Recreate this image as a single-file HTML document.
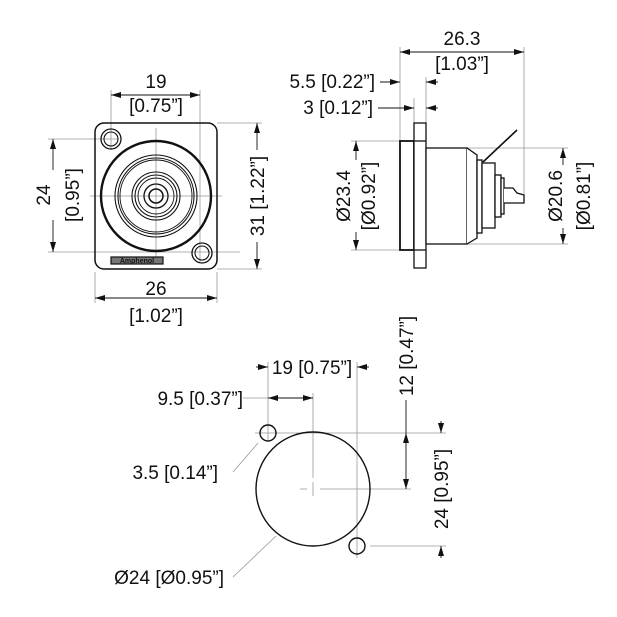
<!DOCTYPE html>
<html><head><style>
html,body{margin:0;padding:0;background:#fff;}
svg{display:block;}
text{font-family:"Liberation Sans",sans-serif;font-size:19px;fill:#111;}
</style></head><body>
<svg width="617" height="617" viewBox="0 0 617 617" xmlns="http://www.w3.org/2000/svg">
<defs>
<marker id="a" viewBox="0 0 10 6" refX="10" refY="3" markerWidth="10" markerHeight="6" orient="auto-start-reverse" markerUnits="userSpaceOnUse"><path d="M0,0 L10,3 L0,6 z" fill="#111"/></marker>
</defs>
<g stroke="#999" stroke-width="0.8" fill="none">
<line x1="111" y1="90" x2="111" y2="150"/><line x1="200" y1="90" x2="200" y2="262"/>
<line x1="95" y1="272" x2="95" y2="303"/><line x1="217" y1="272" x2="217" y2="303"/>
<line x1="217" y1="123" x2="262" y2="123"/><line x1="217" y1="269" x2="262" y2="269"/>
<line x1="48" y1="139" x2="118" y2="139"/><line x1="48" y1="252" x2="240" y2="252"/>
<line x1="156" y1="128" x2="156" y2="264"/><line x1="90" y1="196" x2="222" y2="196"/>
<line x1="400" y1="47" x2="400" y2="141"/><line x1="524" y1="47" x2="524" y2="195"/>
<line x1="426" y1="77" x2="426" y2="123"/><line x1="414" y1="98" x2="414" y2="123"/>
<line x1="351" y1="141" x2="400" y2="141"/><line x1="351" y1="250" x2="400" y2="250"/>
<line x1="467" y1="148" x2="568" y2="148"/><line x1="467" y1="244" x2="568" y2="244"/>
<line x1="268" y1="362" x2="268" y2="440"/><line x1="357" y1="362" x2="357" y2="558"/>
<line x1="313" y1="393" x2="313" y2="478"/>
<line x1="300" y1="489" x2="307" y2="489"/><line x1="320" y1="489" x2="411" y2="489"/>
<line x1="313" y1="482" x2="313" y2="496"/>
<line x1="255" y1="433" x2="446" y2="433"/><line x1="370" y1="546" x2="446" y2="546"/>
<line x1="243" y1="398" x2="268" y2="398"/>
<line x1="233" y1="472" x2="258" y2="443"/><line x1="233" y1="577" x2="276" y2="536"/>
</g>
<g stroke="#111" stroke-width="0.9" fill="none">
<line x1="111" y1="95" x2="200" y2="95" marker-start="url(#a)" marker-end="url(#a)"/>
<line x1="95" y1="298" x2="217" y2="298" marker-start="url(#a)" marker-end="url(#a)"/>
<line x1="257" y1="123" x2="257" y2="150" marker-start="url(#a)"/><line x1="257" y1="242" x2="257" y2="269" marker-end="url(#a)"/>
<line x1="53" y1="139" x2="53" y2="170" marker-start="url(#a)"/><line x1="53" y1="220" x2="53" y2="252" marker-end="url(#a)"/>
<line x1="400" y1="52" x2="524" y2="52" marker-start="url(#a)" marker-end="url(#a)"/>
<line x1="380" y1="82" x2="400" y2="82" marker-end="url(#a)"/><line x1="438" y1="82" x2="426" y2="82" marker-end="url(#a)"/>
<line x1="378" y1="108" x2="414" y2="108" marker-end="url(#a)"/><line x1="438" y1="108" x2="426" y2="108" marker-end="url(#a)"/>
<line x1="356" y1="141" x2="356" y2="160" marker-start="url(#a)"/><line x1="356" y1="232" x2="356" y2="250" marker-end="url(#a)"/>
<line x1="563" y1="148" x2="563" y2="165" marker-start="url(#a)"/><line x1="563" y1="228" x2="563" y2="244" marker-end="url(#a)"/>
<line x1="256" y1="367" x2="268" y2="367" marker-end="url(#a)"/><line x1="369" y1="367" x2="357" y2="367" marker-end="url(#a)"/>
<line x1="268" y1="398" x2="313" y2="398" marker-start="url(#a)" marker-end="url(#a)"/>
<line x1="406" y1="433" x2="406" y2="489" marker-start="url(#a)" marker-end="url(#a)"/>
<line x1="441" y1="421" x2="441" y2="433" marker-end="url(#a)"/><line x1="441" y1="558" x2="441" y2="546" marker-end="url(#a)"/>
<line x1="406" y1="400" x2="406" y2="433"/>
</g>
<g stroke="#111" fill="none">
<rect x="95" y="123" width="122" height="146" rx="9" stroke-width="1.5"/>
<circle cx="111" cy="139" r="10" stroke-width="1.3"/><circle cx="111" cy="139" r="7" stroke-width="1.1"/>
<circle cx="202" cy="253" r="10" stroke-width="1.3"/><circle cx="202" cy="253" r="7" stroke-width="1.1"/>
<circle cx="156" cy="196" r="55" stroke-width="2.4"/>
<circle cx="156" cy="196" r="41" stroke-width="1.1"/><circle cx="156" cy="196" r="38" stroke-width="1.1"/>
<circle cx="156" cy="196" r="36" stroke-width="0.9"/>
<circle cx="156" cy="196" r="24" stroke-width="1.1"/><circle cx="156" cy="196" r="21" stroke-width="1.1"/>
<circle cx="156" cy="196" r="18" stroke-width="0.9"/>
<circle cx="156" cy="196" r="12" stroke-width="1.3"/><circle cx="156" cy="196" r="7" stroke-width="1.5"/>
<rect x="111" y="257" width="52" height="7" fill="#777" stroke-width="1.2"/>
</g>
<text x="137" y="263" style="font-size:7px;fill:#111;font-weight:bold" text-anchor="middle">Amphenol</text>
<g stroke="#111" fill="#fff" stroke-width="1.3">
<rect x="400" y="141" width="14" height="109" stroke-width="1.8"/>
<rect x="414" y="123" width="12" height="145"/>
<line x1="414" y1="141" x2="426" y2="141"/><line x1="414" y1="250" x2="426" y2="250"/>
<rect x="426" y="148" width="41" height="96"/>
<path d="M467,148 L477,155 L477,238 L467,244"/>
<rect x="477" y="160" width="5" height="73"/>
<rect x="482" y="163" width="13" height="65"/>
<rect x="495" y="175" width="6" height="42"/>
<rect x="501" y="178" width="3" height="36"/>
<path d="M504,188 L513,188 L517,193 L524,195 L524,203 L504,203"/>
<line x1="483" y1="162" x2="517" y2="130" stroke-width="1.6"/>
</g>
<g stroke="#111" fill="none" stroke-width="1.4">
<circle cx="313" cy="489" r="57"/>
<circle cx="268" cy="433" r="8"/><circle cx="357" cy="546" r="8"/>
</g>
<text x="156" y="88" text-anchor="middle">19</text>
<text x="156" y="112" text-anchor="middle">[0.75”]</text>
<text x="156" y="295" text-anchor="middle">26</text>
<text x="156" y="322" text-anchor="middle">[1.02”]</text>
<text transform="translate(264,196) rotate(-90)" text-anchor="middle">31 [1.22”]</text>
<text transform="translate(50,195) rotate(-90)" text-anchor="middle">24</text>
<text transform="translate(79,195) rotate(-90)" text-anchor="middle">[0.95”]</text>
<text x="462" y="45" text-anchor="middle">26.3</text>
<text x="462" y="70" text-anchor="middle">[1.03”]</text>
<text x="375" y="88" text-anchor="end">5.5 [0.22”]</text>
<text x="373" y="114" text-anchor="end">3 [0.12”]</text>
<text transform="translate(350,196) rotate(-90)" text-anchor="middle">Ø23.4</text>
<text transform="translate(375,196) rotate(-90)" text-anchor="middle">[Ø0.92”]</text>
<text transform="translate(562,196) rotate(-90)" text-anchor="middle">Ø20.6</text>
<text transform="translate(590,196) rotate(-90)" text-anchor="middle">[Ø0.81”]</text>
<text x="312" y="374" text-anchor="middle">19 [0.75”]</text>
<text x="243" y="405" text-anchor="end">9.5 [0.37”]</text>
<text transform="translate(413,356) rotate(-90)" text-anchor="middle">12 [0.47”]</text>
<text transform="translate(448,489) rotate(-90)" text-anchor="middle">24 [0.95”]</text>
<text x="218" y="479" text-anchor="end">3.5 [0.14”]</text>
<text x="224" y="584" text-anchor="end">Ø24 [Ø0.95”]</text>
</svg>
</body></html>
